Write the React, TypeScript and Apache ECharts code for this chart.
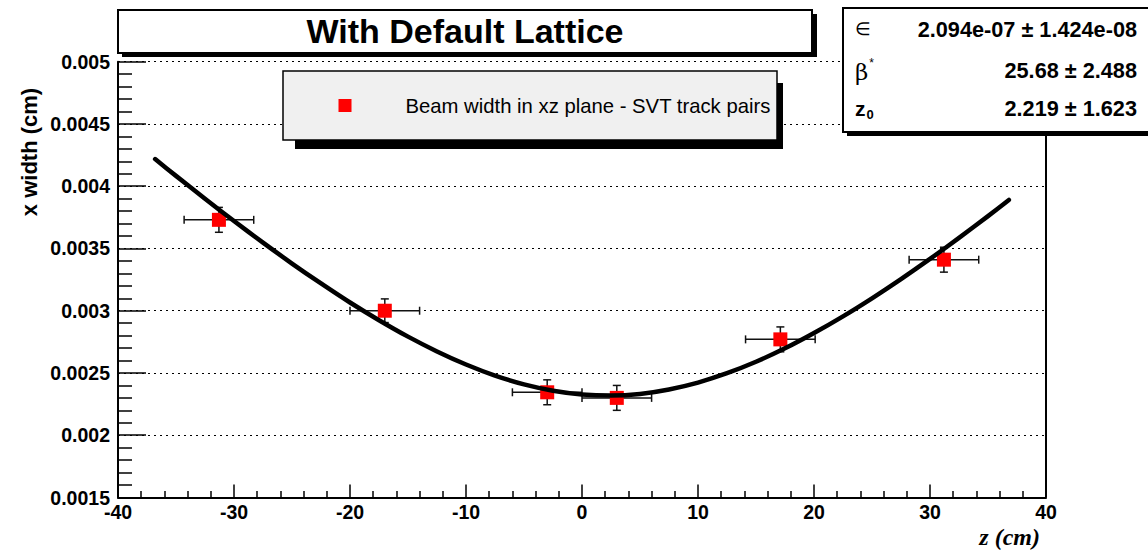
import React, { useEffect, useRef } from "react";
import * as echarts from "echarts";

// Measured points: z position (cm), beam x width (cm) and their errors
const zPositions = [-31.3, -17.0, -3.0, 3.0, 17.1, 31.2];
const beamWidths = [0.00373, 0.003, 0.002345, 0.0023, 0.00277, 0.00341];
const zErrors = [3, 3, 3, 3, 3, 3];
const widthErrors = [0.0001, 0.000095, 0.0001, 0.0001, 0.0001, 0.0001];

// Fit curve
const fitZ = [
  -36.8, -35, -32.5, -30, -27.5, -25, -22.5, -20, -17.5, -15, -12.5, -10, -7.5, -5, -2.5, 0,
  2.5, 5, 7.5, 10, 12.5, 15, 17.5, 20, 22.5, 25, 27.5, 30, 32.5, 35, 36.8,
];
const fitWidth = [
  0.004218, 0.004083, 0.0039, 0.00372, 0.003547, 0.003379, 0.003219, 0.003066, 0.002924,
  0.002792, 0.002673, 0.002568, 0.002479, 0.002409, 0.002358, 0.002328, 0.002319, 0.002332,
  0.002368, 0.002423, 0.002498, 0.00259, 0.002698, 0.002821, 0.002955, 0.0031, 0.003254,
  0.003416, 0.003585, 0.00376, 0.00389,
];

const titleText = "With Default Lattice";
const seriesName = "Beam width in xz plane - SVT track pairs";
const statNames = ["∈", "β", "z"];
const statValues = ["2.094e-07 ± 1.424e-08", "25.68 ± 2.488", "2.219 ± 1.623"];

const SANS = "'Liberation Sans', Arial, Helvetica, sans-serif";

export default function App() {
  const ref = useRef<HTMLDivElement>(null);
  useEffect(() => {
    if (!ref.current) return;
    const chart = echarts.init(ref.current, undefined, { renderer: "svg" });

    const pointData = zPositions.map((z, i) => [z, beamWidths[i], zErrors[i], widthErrors[i]]);
    const fitData = fitZ.map((z, i) => [z, fitWidth[i]]);
    const tickStyle = { color: "#000", width: 1.5 };

    const option: any = {
      animation: false,
      backgroundColor: "#fff",
      title: {
        text: titleText,
        left: 465,
        top: 12,
        padding: 0,
        textAlign: "center",
        textStyle: { fontFamily: SANS, fontWeight: "bold", fontSize: 34, color: "#000", lineHeight: 38 },
        z: 10,
      },
      legend: {
        data: [{ name: seriesName, icon: "rect" }],
        left: 338.5,
        top: 95.5,
        padding: 0,
        itemWidth: 13,
        itemHeight: 13,
        selectedMode: false,
        textStyle: {
          fontFamily: SANS,
          fontSize: 20.3,
          color: "#000",
          lineHeight: 20,
          padding: [0, 0, 0, 49],
        },
        z: 10,
      },
      grid: {
        left: 118,
        right: 102,
        top: 61.7,
        bottom: 54.5,
        containLabel: false,
        outerBoundsMode: "none",
      },
      xAxis: {
        type: "value",
        min: -40,
        max: 40,
        interval: 10,
        axisLine: { show: true, onZero: false, lineStyle: { color: "#000", width: 2 } },
        axisTick: { show: true, inside: true, length: 13, lineStyle: tickStyle },
        minorTick: { show: true, splitNumber: 5, length: 6.5, lineStyle: tickStyle },
        axisLabel: { color: "#000", fontFamily: SANS, fontWeight: "bold", fontSize: 19.5, margin: 4 },
        splitLine: { show: false },
      },
      yAxis: {
        type: "value",
        min: 0.0015,
        max: 0.005,
        interval: 0.0005,
        axisLine: { show: true, onZero: false, lineStyle: { color: "#000", width: 2 } },
        axisTick: { show: true, inside: true, length: 28, lineStyle: tickStyle },
        minorTick: { show: true, splitNumber: 5, length: 14, lineStyle: tickStyle },
        axisLabel: {
          color: "#000",
          fontFamily: SANS,
          fontWeight: "bold",
          fontSize: 19.5,
          margin: 8,
          formatter: (v: number) => Number(v.toPrecision(4)).toString(),
        },
        splitLine: { show: true, lineStyle: { color: "#000", width: 1, type: [2, 4] } },
      },
      series: [
        {
          name: "errors",
          type: "custom",
          z: 2,
          silent: true,
          data: pointData,
          encode: { x: 0, y: 1 },
          renderItem: (params: any, api: any) => {
            const z = api.value(0);
            const w = api.value(1);
            const ez = api.value(2);
            const ew = api.value(3);
            const l = api.coord([z - ez, w]);
            const r = api.coord([z + ez, w]);
            const t = api.coord([z, w + ew]);
            const b = api.coord([z, w - ew]);
            const style = { stroke: "#111", lineWidth: 1.5 };
            const cap = 4;
            return {
              type: "group",
              children: [
                { type: "line", shape: { x1: l[0], y1: l[1], x2: r[0], y2: r[1] }, style },
                { type: "line", shape: { x1: l[0], y1: l[1] - cap, x2: l[0], y2: l[1] + cap }, style },
                { type: "line", shape: { x1: r[0], y1: r[1] - cap, x2: r[0], y2: r[1] + cap }, style },
                { type: "line", shape: { x1: t[0], y1: t[1], x2: b[0], y2: b[1] }, style },
                { type: "line", shape: { x1: t[0] - cap, y1: t[1], x2: t[0] + cap, y2: t[1] }, style },
                { type: "line", shape: { x1: b[0] - cap, y1: b[1], x2: b[0] + cap, y2: b[1] }, style },
              ],
            };
          },
        },
        {
          name: seriesName,
          type: "scatter",
          z: 3,
          symbol: "rect",
          symbolSize: 14,
          itemStyle: { color: "#ff0000", opacity: 1 },
          data: pointData.map((p) => [p[0], p[1]]),
        },
        {
          name: "fit",
          type: "line",
          z: 4,
          smooth: 0.25,
          showSymbol: false,
          silent: true,
          lineStyle: { color: "#000", width: 4.5, join: "round", cap: "round" },
          data: fitData,
        },
      ],
      graphic: [
        // title box
        { type: "rect", shape: { x: 122, y: 14, width: 695, height: 43 }, style: { fill: "#000" }, z: 5 },
        { type: "rect", shape: { x: 118, y: 10, width: 694, height: 43 }, style: { fill: "#fff", stroke: "#000", lineWidth: 2 }, z: 5 },
        // legend box
        { type: "rect", shape: { x: 295, y: 83, width: 488, height: 66 }, style: { fill: "#000" }, z: 5 },
        { type: "rect", shape: { x: 283, y: 71, width: 494, height: 69 }, style: { fill: "#f0f0f0", stroke: "#000", lineWidth: 1.5 }, z: 5 },
        // right frame border
        { type: "line", shape: { x1: 1046, y1: 61.7, x2: 1046, y2: 497.5 }, style: { stroke: "#000", lineWidth: 2 }, z: 5 },
        // stats box
        { type: "rect", shape: { x: 847, y: 12, width: 320, height: 124 }, style: { fill: "#000" }, z: 6 },
        { type: "rect", shape: { x: 843, y: 8, width: 320, height: 124 }, style: { fill: "#fff", stroke: "#000", lineWidth: 2 }, z: 6 },
        {
          type: "text", x: 855, y: 29, z: 7,
          style: { text: statNames[0], fontFamily: SANS, fontSize: 18, fill: "#000", verticalAlign: "middle", align: "left" },
        },
        {
          type: "text", x: 855, y: 72, z: 7,
          style: {
            text: "{a|" + statNames[1] + "}{s|*}",
            verticalAlign: "middle",
            align: "left",
            rich: {
              a: { fontFamily: "'DejaVu Serif', serif", fontSize: 23, fill: "#000" },
              s: { fontFamily: SANS, fontSize: 12, fill: "#000", padding: [0, 0, 18, 1] },
            },
          },
        },
        {
          type: "text", x: 855, y: 108, z: 7,
          style: {
            text: "{a|" + statNames[2] + "}{s|0}",
            verticalAlign: "middle",
            align: "left",
            rich: {
              a: { fontFamily: SANS, fontWeight: "bold", fontSize: 21, fill: "#000" },
              s: { fontFamily: SANS, fontWeight: "bold", fontSize: 13, fill: "#000", padding: [12, 0, 0, 1] },
            },
          },
        },
        ...statValues.map((v, i) => ({
          type: "text",
          x: 1137,
          y: [29, 70, 108][i],
          z: 7,
          style: { text: v, fontFamily: SANS, fontWeight: "bold", fontSize: 21.7, fill: "#000", align: "right", verticalAlign: "middle" },
        })),
        // axis titles
        {
          type: "text", x: 29, y: 152, rotation: Math.PI / 2, z: 7,
          style: { text: "x width (cm)", fontFamily: SANS, fontWeight: "bold", fontSize: 22, fill: "#000", align: "center", verticalAlign: "middle" },
        },
        {
          type: "text", x: 1040, y: 537, z: 7,
          style: { text: "z (cm)", fontFamily: "'Liberation Serif', 'Times New Roman', serif", fontStyle: "italic", fontWeight: "bold", fontSize: 24, fill: "#000", align: "right", verticalAlign: "middle" },
        },
      ],
    };

    chart.setOption(option);
    return () => chart.dispose();
  }, []);

  return (
    <div
      ref={ref}
      style={{ position: "absolute", left: 0, top: 0, width: 1148, height: 552, background: "#fff" }}
    />
  );
}
